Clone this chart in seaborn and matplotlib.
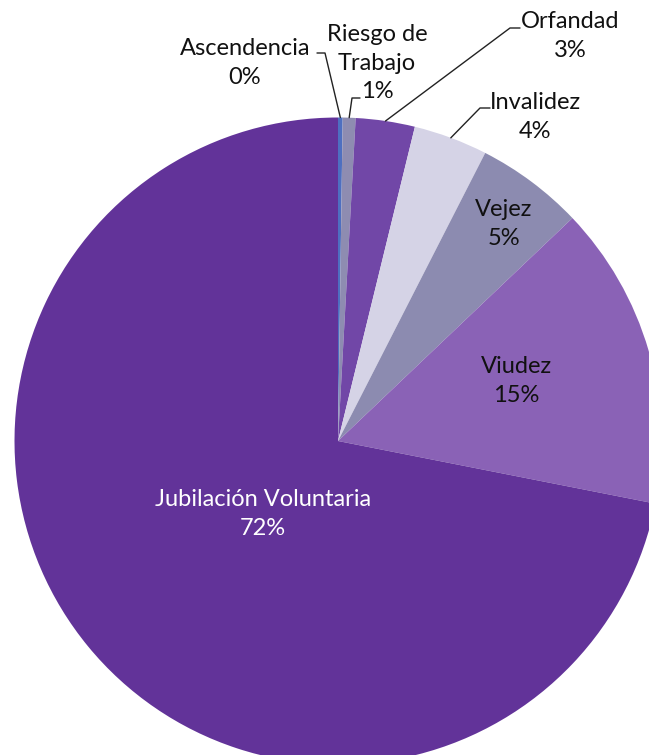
import numpy as np
import matplotlib.pyplot as plt
import seaborn as sns

# -----------------------------
# Data (percent of total)
# -----------------------------
categories = ["Ascendencia", "Riesgo de\nTrabajo", "Orfandad", "Invalidez",
              "Vejez", "Viudez", "Jubilación Voluntaria"]
shares = [0.23, 0.64, 2.95, 3.70, 5.38, 15.2, 71.9]
pct_labels = ["0%", "1%", "3%", "4%", "5%", "15%", "72%"]
colors = ["#4e6fc0", "#8e8cb1", "#7147a7", "#d5d3e6",
          "#8c8bb0", "#8a62b6", "#623399"]

sns.set_theme(style="white")
plt.rcParams['font.family'] = ['Lato', 'DejaVu Sans']

W, H = 649, 755
CX, CY, R = 338, 441, 323.5   # pie centre / radius in pixels


def px(x, y):
    # pixel position (top-left origin) -> data units of the pie
    return (x - CX) / R, (CY - y) / R


fig = plt.figure(figsize=(W / 100, H / 100), dpi=100)
ax = fig.add_axes([0, 0, 1, 1])

wedges, _ = ax.pie(shares, colors=colors, startangle=90, counterclock=False,
                   radius=1, wedgeprops=dict(linewidth=0))

ax.set_aspect("auto")
ax.set_xlim(px(0, 0)[0], px(W, 0)[0])
ax.set_ylim(px(0, H)[1], px(0, 0)[1])
ax.axis("off")

# -----------------------------
# Labels
# -----------------------------
fs = 17
ls = 1.45
txt_col = "#111111"
# inside labels: Vejez, Viudez, Jubilación
inside = {4: (504, 224), 5: (516, 381), 6: (263, 514)}
for i, (x, y) in inside.items():
    c = "white" if i == 6 else txt_col
    ax.text(*px(x, y), f"{categories[i]}\n{pct_labels[i]}", ha="center", va="center",
            fontsize=fs, color=c, linespacing=ls)

# outside labels with leader lines: (text centre, line start, elbow)
outside = {
    0: ((245, 63), (317, 53), (325, 53)),
    1: ((377, 63), (360, 98), (352, 98)),
    2: ((570, 36), (520, 28), (510, 28)),
    3: ((535, 117), (490, 108), (480, 108)),
}
for i, (tpos, start, elbow) in outside.items():
    ax.text(*px(*tpos), f"{categories[i]}\n{pct_labels[i]}", ha="center", va="center",
            fontsize=fs, color=txt_col, linespacing=ls)
    w = wedges[i]
    mid = np.deg2rad((w.theta1 + w.theta2) / 2)
    anchor = (np.cos(mid), np.sin(mid))
    xs = [px(*start)[0], px(*elbow)[0], anchor[0]]
    ys = [px(*start)[1], px(*elbow)[1], anchor[1]]
    ax.plot(xs, ys, color="#222222", lw=1)

plt.savefig("out.png", dpi=100)
